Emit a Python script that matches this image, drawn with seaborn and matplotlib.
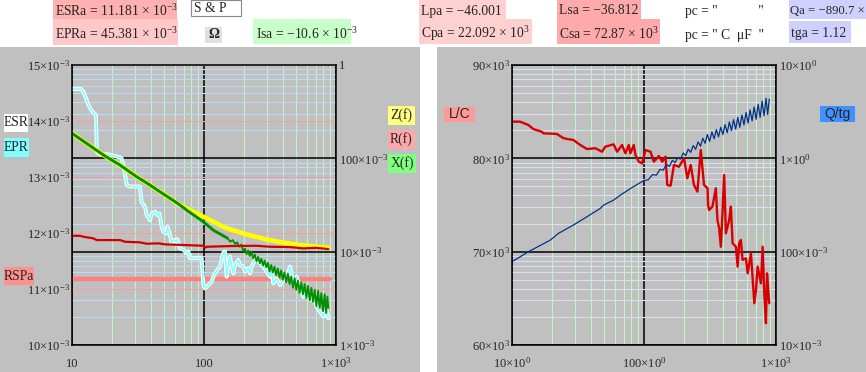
import numpy as np
import pandas as pd
import matplotlib
matplotlib.use("Agg")
import matplotlib.pyplot as plt
import seaborn as sns
from matplotlib.patches import Rectangle
from matplotlib.ticker import FixedLocator, FixedFormatter, LogLocator, NullLocator

sns.set_style("white")
plt.rcParams["font.family"] = ["Liberation Serif", "DejaVu Serif"]
plt.rcParams["mathtext.fontset"] = "custom"
plt.rcParams["mathtext.rm"] = "Liberation Serif"
plt.rcParams["mathtext.it"] = "Liberation Serif:italic"
plt.rcParams["mathtext.bf"] = "Liberation Serif:bold"

# ---------------- left panel data (frequency, values) ----------------
# ESR / EPR trace, in 1e-3 units (left linear axis)
f_esr = [10, 11.8, 12.2, 12.8, 13.3, 14.1, 14.7, 15.2, 15.4, 15.8, 16.8, 18.3, 23.1, 23.8, 24.8, 26.0,
         27.2, 32.7, 33.7, 35.7, 36.8, 39.0, 40.1, 42.6, 44.3, 45.9, 47.8, 49.2, 52.1, 52.8, 54.6, 56.9,
         59.3, 61.4, 62.8, 65.8, 69.7, 73.9, 76.1, 78.3, 96.0, 98.8, 101.8, 104.8, 114.3, 117.7, 124.7,
         132.2, 140.1, 144.2, 148.5, 152.9, 157.4, 162.1, 166.9, 171.8, 182.0, 187.4, 198.6, 204.5, 216.7,
         223.1, 229.7, 236.5, 250.6, 265.6, 281.5, 298.4, 316.2, 325.6, 335.1, 355.2, 376.5, 399.0, 422.9,
         448.2, 475.1, 503.5, 533.7, 565.6, 599.5, 635.3, 673.4, 713.7, 756.5, 801.7, 849.8, 874.9]
esr = [14.57, 14.57, 14.52, 14.40, 14.29, 14.18, 14.14, 14.10, 13.45, 13.42, 13.39, 13.41, 13.35, 13.33,
       13.15, 12.86, 12.83, 12.83, 12.55, 12.47, 12.32, 12.23, 12.35, 12.38, 12.32, 12.35, 12.11, 12.02,
       11.99, 12.11, 12.02, 11.82, 11.875, 11.85, 11.89, 11.73, 11.70, 11.64, 11.67, 11.55, 11.55, 11.07,
       11.01, 11.04, 11.13, 11.22, 11.33, 11.40, 11.65, 11.67, 11.22, 11.40, 11.58, 11.40, 11.28, 11.43,
       11.52, 11.43, 11.40, 11.31, 11.37, 11.28, 11.40, 11.46, 11.55, 11.46, 11.40, 11.31, 11.22, 11.34,
       11.10, 11.19, 11.07, 11.16, 11.22, 11.40, 11.10, 11.22, 11.01, 10.86, 10.92, 10.80, 10.86, 10.68,
       10.595, 10.51, 10.625, 10.48]
rspa_f = [10, 900]
rspa = [11.181, 11.181]

# R(f), Z(f), X(f) on the right log axis
f_r = [10, 11.5, 12.2, 14.5, 15.4, 23.1, 25.2, 32.7, 36.8, 45.1, 50.6, 71.8, 98.8, 101.8, 104.8, 157.4,
       250.6, 316, 450, 565.6, 700, 874.9]
r_f = [0.0148, 0.0148, 0.01445, 0.0139, 0.01331, 0.01331, 0.01277, 0.01259, 0.01216, 0.01228, 0.01197,
       0.01177, 0.01157, 0.01101, 0.01129, 0.01148, 0.01157, 0.01129, 0.0112, 0.01084, 0.0110, 0.01067]

f_z = [10, 17.3, 23.1, 30.9, 39.0, 46.4, 55.2, 62.1, 88.0, 111.1, 140, 150, 165, 180, 198, 215, 235, 255,
       280, 316, 350, 400, 450, 520, 635, 750, 875]
z_f = [0.1854, 0.1085, 0.0847, 0.0635, 0.0517, 0.0438, 0.0373, 0.0330, 0.0257, 0.0218, 0.0185, 0.0178,
       0.0170, 0.0164, 0.0157, 0.0152, 0.0147, 0.0143, 0.0138, 0.0133, 0.0129, 0.0125, 0.0122, 0.0118,
       0.0115, 0.0112, 0.0110]

# X(f): smooth low-frequency part, then the noisy band
f_x = [10, 17.3, 23.1, 30.9, 39.0, 46.4, 55.2, 65.8, 73.9, 98.8, 117.6, 140, 150]
x_f = [0.1854, 0.1085, 0.0847, 0.0635, 0.0517, 0.0438, 0.0373, 0.0316, 0.0279, 0.0209, 0.0170, 0.0148,
       0.0140]
f_xn = [150, 158, 165, 172, 178, 185, 192, 198, 204, 210, 216, 222, 229, 236, 243, 250, 257, 265, 272,
        280, 288, 296, 305, 314, 323, 332, 342, 352, 362, 373, 384, 395, 407, 419, 432, 445, 458, 472,
        486, 500, 515, 530, 546, 562, 579, 596, 614, 632, 651, 670, 690, 710, 731, 752, 774, 797, 820,
        842, 860, 875]
x_n = [0.0140, 0.0128, 0.0133, 0.0121, 0.0126, 0.0113, 0.0119, 0.0101, 0.0108, 0.0094, 0.0103, 0.0090,
       0.0099, 0.0085, 0.0093, 0.0079, 0.0088, 0.0075, 0.0084, 0.0071, 0.0080, 0.0068, 0.0076, 0.0061,
       0.0072, 0.0060, 0.0069, 0.0056, 0.0066, 0.0053, 0.0063, 0.0050, 0.0060, 0.0047, 0.0058, 0.0045,
       0.0054, 0.0041, 0.0052, 0.0039, 0.0049, 0.0036, 0.0047, 0.0035, 0.0045, 0.0032, 0.0043, 0.0030,
       0.0041, 0.0029, 0.0039, 0.0026, 0.0038, 0.0025, 0.0036, 0.0023, 0.0035, 0.0022, 0.0033, 0.0025]

# ---------------- right panel data ----------------
# L/C in 1e3 units (left linear axis)
f_lc = [10, 11.5, 13.3, 14.5, 16.8, 17.3, 21.9, 24.6, 29.2, 32.9, 37.0, 42.8, 48.1, 50.9, 58.9, 62.5,
        68.2, 72.3, 76.6, 78.9, 83.6, 86.1, 91.3, 96.8, 102.6, 112, 118.7, 129.6, 137.5, 145.7, 150, 159,
        168.6, 184, 201, 213, 226, 239, 254, 269, 285, 303, 306, 311, 330, 350, 360, 371, 382, 393, 405,
        417, 442, 455, 469, 497, 512, 526, 542, 558, 592, 610, 646, 685, 705, 726, 769, 792, 815, 839,
        855, 880, 889]
lc = [83.93, 83.93, 83.57, 83.14, 82.85, 82.68, 82.61, 82.15, 81.96, 81.43, 81.00, 81.08, 80.71, 81.25,
      81.50, 80.71, 81.43, 80.54, 81.43, 80.54, 81.43, 80.36, 79.64, 79.47, 80.89, 80.71, 79.64, 80.25,
      79.64, 80.18, 77.14, 77.07, 79.29, 79.10, 80.00, 77.86, 79.29, 77.14, 76.43, 80.89, 77.14, 76.79,
      75.00, 74.46, 74.82, 76.79, 73.39, 72.50, 70.53, 74.11, 78.21, 71.97, 73.39, 74.82, 70.90, 70.53,
      68.39, 70.90, 71.25, 69.11, 69.29, 67.68, 69.82, 64.47, 65.89, 68.39, 66.61, 70.53, 65.54, 62.33,
      67.68, 65.29, 64.47]

# Q/tg on the right log axis: clean part, then noisy part
f_q = [10, 13.3, 19.5, 22.5, 29.2, 37.0, 46.7, 49.5, 58.9, 66.3, 80, 100]
q = [0.078, 0.0998, 0.133, 0.157, 0.193, 0.237, 0.291, 0.316, 0.357, 0.404, 0.48, 0.58]
f_qn = [100, 108, 116, 124, 132, 140, 148, 156, 164, 172, 180, 189, 198, 207, 216, 226, 236, 246, 257,
        268, 279, 290, 302, 314, 327, 340, 353, 367, 381, 396, 411, 427, 443, 460, 477, 495, 513, 532,
        552, 572, 593, 614, 636, 659, 683, 707, 732, 758, 785, 812, 840, 865, 889]
q_n = [0.58, 0.59, 0.67, 0.66, 0.76, 0.75, 0.86, 0.82, 0.95, 0.90, 1.02, 0.98, 1.14, 1.07, 1.25, 1.16,
       1.37, 1.25, 1.50, 1.35, 1.64, 1.45, 1.80, 1.52, 1.92, 1.62, 2.03, 1.70, 2.15, 1.80, 2.30, 1.88,
       2.45, 1.98, 2.60, 2.05, 2.75, 2.15, 2.92, 2.28, 3.10, 2.38, 3.30, 2.52, 3.55, 2.62, 3.80, 2.75,
       4.10, 2.85, 4.40, 2.95, 4.30]

# tick labels
l_x_ticks = [10, 100, 1000]
l_x_labels = ["10", "100", "1×10$^{3}$"]
l_y_ticks = [10, 11, 12, 13, 14, 15]
l_y_labels = ["%d×10$^{-3}$" % v for v in l_y_ticks]
l_y2_ticks = [1e-3, 1e-2, 1e-1, 1]
l_y2_labels = ["1×10$^{-3}$", "10×10$^{-3}$", "100×10$^{-3}$", "1"]
r_x_labels = ["10×10$^{0}$", "100×10$^{0}$", "1×10$^{3}$"]
r_y_ticks = [60, 70, 80, 90]
r_y_labels = ["%d×10$^{3}$" % v for v in r_y_ticks]
r_y2_ticks = [1e-2, 1e-1, 1, 10]
r_y2_labels = ["10×10$^{-3}$", "100×10$^{-3}$", "1×10$^{0}$", "10×10$^{0}$"]

W, H = 866, 372
GRAY = "#c0c0c0"
fig = plt.figure(figsize=(W / 100, H / 100), dpi=100)
fig.patch.set_facecolor("white")


def rect(x0, y0, x1, y1, fc, ec="none", lw=0, z=3):
    fig.patches.append(Rectangle((x0 / W, 1 - y1 / H), (x1 - x0) / W, (y1 - y0) / H,
                                 transform=fig.transFigure, facecolor=fc, edgecolor=ec,
                                 linewidth=lw, zorder=z))


def txt(x, y, s, size=9.8, ha="left", **kw):
    fig.text(x / W, 1 - y / H, s, fontsize=size, ha=ha, va="center", zorder=4, **kw)


def set_ticks(axis, locs, labels):
    axis.set_major_locator(FixedLocator(locs))
    axis.set_major_formatter(FixedFormatter(labels))
    axis.set_minor_locator(NullLocator())


# panels
rect(0, 47, 420, H, GRAY, z=-5)
rect(437, 47, W, H, GRAY, z=-5)


def panel(left_px, ylin, ylog, minor_y_color, lin_grid):
    pos = [left_px / W, 1 - 345 / H, 264 / W, 280 / H]
    g = fig.add_axes(pos, facecolor=GRAY)
    g.set_xscale("log")
    g.set_yscale("log")
    g.set_xlim(10, 1000)
    g.set_ylim(*ylog)
    g.xaxis.set_minor_locator(LogLocator(base=10, subs=np.arange(2, 10), numticks=20))
    g.yaxis.set_minor_locator(LogLocator(base=10, subs=np.arange(2, 10), numticks=20))
    g.grid(which="minor", axis="x", color="#c4f4c4", linewidth=0.8)
    g.grid(which="minor", axis="y", color=minor_y_color, linewidth=0.8)
    g.grid(which="major", color="black", linewidth=1.1)
    g.tick_params(which="both", length=0, labelleft=False, labelbottom=False)
    for s in g.spines.values():
        s.set_visible(False)

    a = fig.add_axes(pos, facecolor="none")
    a.set_xscale("log")
    a.set_xlim(10, 1000)
    a.set_ylim(*ylin)
    if lin_grid:
        a.yaxis.grid(True, color="#f4a0a0", linewidth=0.8)
    b = a.twinx()
    b.set_yscale("log")
    b.set_ylim(*ylog)
    for ax in (a, b):
        for s in ax.spines.values():
            s.set_visible(False)
    for s in b.spines.values():
        s.set_visible(True)
        s.set_color("black")
        s.set_linewidth(1.1)
    return g, a, b


# ---------------- left panel ----------------
gl, al, ar = panel(72, (10, 15), (1e-3, 1), "#bcdaf6", True)
sns.lineplot(x=rspa_f, y=rspa, ax=al, color="#ff8080", linewidth=3.2, sort=False, estimator=None)
sns.lineplot(x=f_esr, y=esr, ax=al, color="white", linewidth=2.8, sort=False, estimator=None)
sns.lineplot(x=f_esr, y=esr, ax=al, color="#80ffff", linewidth=1.2, sort=False, estimator=None)
sns.lineplot(x=f_z, y=z_f, ax=ar, color="#ffff00", linewidth=3.3, sort=False, estimator=None)
sns.lineplot(x=f_x, y=x_f, ax=ar, color="#009000", linewidth=2.1, sort=False, estimator=None)
sns.lineplot(x=f_xn, y=x_n, ax=ar, color="#009000", linewidth=1.3, sort=False, estimator=None)
sns.lineplot(x=f_r, y=r_f, ax=ar, color="#d00000", linewidth=1.6, sort=False, estimator=None)

# ---------------- right panel ----------------
gr, bl, br = panel(512, (60, 90), (1e-2, 10), "#dcdcf2", False)
sns.lineplot(x=f_lc, y=lc, ax=bl, color="#d80000", linewidth=1.7, sort=False, estimator=None)
sns.lineplot(x=f_q, y=q, ax=br, color="#003388", linewidth=0.9, sort=False, estimator=None)
sns.lineplot(x=f_qn, y=q_n, ax=br, color="#003388", linewidth=0.9, sort=False, estimator=None)

for (a, b, xl, yl, yt, y2l, y2t, ylim, y2lim) in [
        (al, ar, l_x_labels, l_y_labels, l_y_ticks, l_y2_labels, l_y2_ticks, (10, 15), (1e-3, 1)),
        (bl, br, r_x_labels, r_y_labels, r_y_ticks, r_y2_labels, r_y2_ticks, (60, 90), (1e-2, 10))]:
    a.set_xlim(10, 1000)
    a.set_ylim(*ylim)
    b.set_ylim(*y2lim)
    set_ticks(a.xaxis, l_x_ticks, xl)
    set_ticks(a.yaxis, yt, yl)
    set_ticks(b.yaxis, y2t, y2l)
    a.set_xlabel("")
    a.set_ylabel("")
    b.set_ylabel("")
    a.tick_params(axis="y", length=0, pad=1.5, labelsize=9)
    a.tick_params(axis="x", length=0, pad=16, labelsize=9)
    b.tick_params(axis="y", length=0, pad=2, labelsize=9)
    for lab in a.get_xticklabels():
        lab.set_verticalalignment("baseline")

# ---------------- header boxes ----------------
rect(53, 0, 177, 19, "#ffb0b0")
txt(55, 11, "ESRa = 11.181 × 10$^{-3}$")
rect(53, 19, 178, 45, "#ffc8c8")
txt(55, 34, "EPRa = 45.381 × 10$^{-3}$")
rect(191, 0, 241, 16, "white", ec="#888888", lw=0.8)
txt(194, 8, "S & P")
rect(205, 27, 222, 43, "#e0e0e0")
txt(213.5, 35, "Ω", ha="center", fontweight="bold")
rect(253, 19, 351, 44, "#c8ffc8")
txt(256, 34, "Isa = −10.6 × 10$^{-3}$")
rect(419, 0, 506, 19, "#ffd0d0")
txt(421, 11, "Lpa = −46.001")
rect(419, 19, 532, 44, "#ffd0d0")
txt(421, 34, "Cpa = 22.092 × 10$^{3}$")
rect(557, 0, 641, 19, "#ffaaaa")
txt(559, 11, "Lsa = −36.812")
rect(557, 19, 660, 44, "#ffaaaa")
txt(559, 34, "Csa = 72.87 × 10$^{3}$")
txt(685, 12, 'pc = "            "')
txt(685, 35, 'pc = " C  μF  "')
rect(789, 0, W, 19, "#d0d0ff")
txt(790, 11, "Qa = −890.7 ×", size=9.2)
rect(789, 21, 851, 43, "#d0d0ff")
txt(791, 33, "tga = 1.12")

# trace name labels
rect(4, 114, 28, 132, "white")
txt(16, 123, "ESR", ha="center")
rect(4, 138, 29, 157, "#80ffff")
txt(16.5, 147.5, "EPR", ha="center")
rect(4, 267, 34, 285, "#ff9090")
txt(19, 276, "RSPa", ha="center")
rect(388, 106, 415, 125, "#ffff80")
txt(401.5, 115.5, "Z(f)", ha="center")
rect(388, 130, 415, 149, "#ffa8a8")
txt(401.5, 139.5, "R(f)", ha="center")
rect(388, 154, 416, 173, "#80ff80")
txt(402, 163.5, "X(f)", ha="center")
rect(444, 107, 475, 122, "#ff9999")
txt(459.5, 114.5, "L/C", ha="center", size=10, family="Liberation Sans")
rect(820, 106, 855, 122, "#4090ff")
txt(837.5, 114, "Q/tg", ha="center", size=10, family="Liberation Sans")

fig.savefig("out.png", dpi=100)
